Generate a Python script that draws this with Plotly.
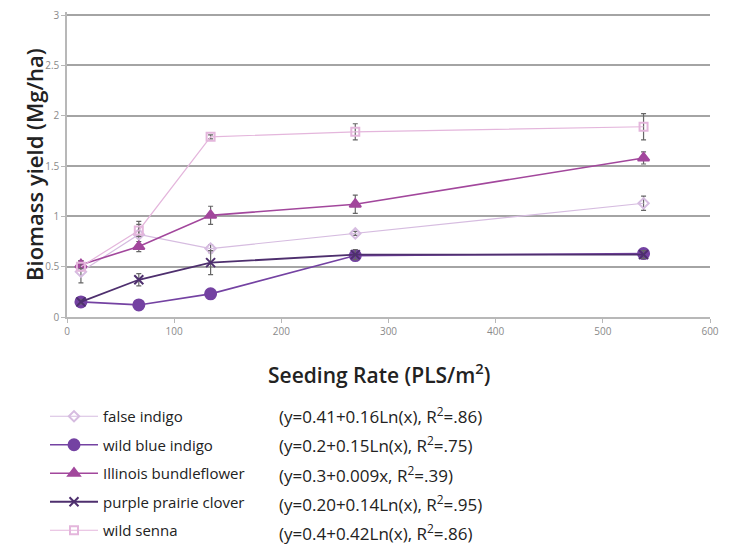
import plotly.graph_objects as go

seeding_rate = [13, 67, 134, 269, 538]

series_names = ["false indigo", "wild blue indigo", "Illinois bundleflower",
                "purple prairie clover", "wild senna"]
equations = ["(y=0.41+0.16Ln(x), R<sup>2</sup>=.86)",
             "(y=0.2+0.15Ln(x), R<sup>2</sup>=.75)",
             "(y=0.3+0.009x, R<sup>2</sup>=.39)",
             "(y=0.20+0.14Ln(x), R<sup>2</sup>=.95)",
             "(y=0.4+0.42Ln(x), R<sup>2</sup>=.86)"]
x_title = "Seeding Rate (PLS/m<sup>2</sup>)"
y_title = "Biomass yield (Mg/ha)"
x_ticks = [0, 100, 200, 300, 400, 500, 600]
y_ticks = [0, 0.5, 1, 1.5, 2, 2.5, 3]
y_ticktext = ["0", "0.5", "1", "1.5", "2", "2.5", "3"]

false_indigo = [0.45, 0.82, 0.68, 0.83, 1.13]
false_indigo_err = [0.11, 0.13, 0.04, 0.02, 0.07]
wild_blue_indigo = [0.15, 0.12, 0.23, 0.61, 0.63]
wild_blue_indigo_err = [0.02, 0.02, 0.02, 0.04, 0.04]
illinois_bundleflower = [0.52, 0.70, 1.01, 1.12, 1.58]
illinois_bundleflower_err = [0.04, 0.05, 0.09, 0.09, 0.06]
purple_prairie_clover = [0.15, 0.37, 0.54, 0.62, 0.62]
purple_prairie_clover_err = [0.02, 0.06, 0.12, 0.05, 0.04]
wild_senna = [0.50, 0.86, 1.79, 1.84, 1.89]
wild_senna_err = [0.04, 0.06, 0.02, 0.08, 0.13]

colors = ["#d6bce0", "#7442a2", "#a2479c", "#4e2f6e", "#e4b6dc"]
symbols = ["diamond-open", "circle", "triangle-up", "x-thin-open", "square-open"]
sizes = [8, 11, 10, 9, 8]
widths = [1.2, 1.6, 1.6, 1.8, 1.2]

values = [false_indigo, wild_blue_indigo, illinois_bundleflower,
          purple_prairie_clover, wild_senna]
errors = [false_indigo_err, wild_blue_indigo_err, illinois_bundleflower_err,
          purple_prairie_clover_err, wild_senna_err]

# page body has an 8px margin: figure drawn at (8, 8)
O = 8
W, H = 738 - O, 548 - O
ml, mr, mt, mb = 67 - O, 28, 12 - O, 231
pw, ph = W - ml - mr, H - mt - mb


def px(x):
    return (x - O - ml) / pw


def py(y):
    return 1 - (y - O - mt) / ph


fig = go.Figure()
for i, name in enumerate(series_names):
    fig.add_trace(go.Scatter(
        x=seeding_rate, y=values[i], name=name, mode="lines+markers",
        legendgroup=name,
        line=dict(color=colors[i], width=widths[i]),
        marker=dict(symbol=symbols[i], size=sizes[i], color=colors[i],
                    line=dict(color=colors[i], width=2)),
        error_y=dict(type="data", array=errors[i], color="#666666",
                     thickness=1.2, width=2.5),
    ))

row_y = [415, 444.5, 474, 503, 532]
for i, eq in enumerate(equations):
    fig.add_annotation(x=px(277), y=py(row_y[i]), xref="paper", yref="paper",
                       text=eq, showarrow=False, xanchor="left", yanchor="middle",
                       font=dict(size=17, color="#222222"))

fig.add_annotation(x=px(379), y=py(374), xref="paper", yref="paper",
                   text=x_title, showarrow=False, xanchor="center", yanchor="middle",
                   font=dict(size=21, color="#222222", weight=600))
fig.add_annotation(x=px(34), y=py(165), xref="paper", yref="paper",
                   text=y_title, showarrow=False, xanchor="center", yanchor="middle",
                   textangle=-90,
                   font=dict(size=22, color="#222222", weight=600))

fig.update_layout(
    width=W, height=H,
    margin=dict(l=ml, r=mr, t=mt, b=mb, autoexpand=False),
    paper_bgcolor="white", plot_bgcolor="white",
    font=dict(family="Open Sans", color="#222222"),
    showlegend=True,
    legend=dict(x=px(45), y=py(400), xanchor="left", yanchor="top",
                font=dict(size=15, color="#222222"), tracegroupgap=6,
                itemwidth=48, bgcolor="rgba(0,0,0,0)"),
    xaxis=dict(range=[0, 600], tickvals=x_ticks, automargin=False,
               showgrid=False, zeroline=False, showline=True, linecolor="#b8b8b8",
               linewidth=1.5, ticks="outside", ticklen=4, tickcolor="#b8b8b8",
               tickfont=dict(size=10, color="#8a8a8a")),
    yaxis=dict(range=[0, 3.03], tickvals=y_ticks, ticktext=y_ticktext, automargin=False,
               ticklabeloverflow="allow",
               showgrid=True, gridcolor="#a4a4a4", gridwidth=1.6,
               zeroline=False, showline=True, linecolor="#b8b8b8", linewidth=1.5,
               ticks="outside", ticklen=4, tickcolor="#b8b8b8",
               tickfont=dict(size=10, color="#8a8a8a")),
)

fig.write_html("out.html")
